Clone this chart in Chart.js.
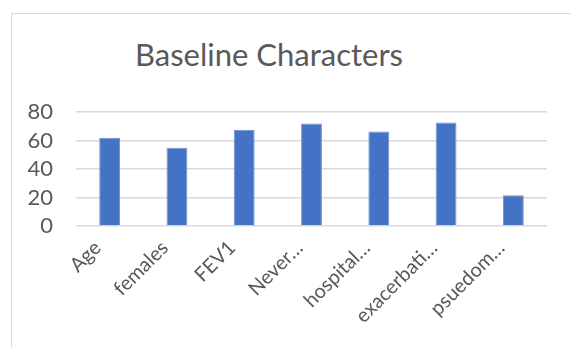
<!DOCTYPE html>
<html lang="en">
  <head>
    <meta charset="UTF-8" />
    <title>Baseline Characters</title>
    <style>
      body { margin: 0; background: #fff; width: 571px; height: 347px; overflow: hidden; position: relative; }
      #frame { position: absolute; left: 11px; top: 13px; width: 600px; height: 400px; border: 1px solid #d9d9d9; }
      #title { position: absolute; left: 0; top: 39px; width: 538px; text-align: center;
        font-family: Lato, sans-serif; font-size: 31px; line-height: 31px; color: #595959; }
      #wrap { position: absolute; left: 0; top: 0; width: 571px; height: 347px; }
    </style>
  </head>
  <body>
    <div id="frame"></div>
    <div id="title">Baseline Characters</div>
    <div id="wrap"><canvas id="myChart"></canvas></div>
    <script src="https://cdn.jsdelivr.net/npm/chart.js@4/dist/chart.umd.min.js"></script>
    <script>
      const categories = ["Age", "females", "FEV1", "Never…", "hospital…", "exacerbati…", "psuedom…"];
      const values = [62, 55, 67.5, 72, 66.3, 72.7, 21.5];
      const yTicks = [0, 20, 40, 60, 80];

      const textColor = "#595959";
      const gridColor = "#d9d9d9";

      var ctx = document.getElementById("myChart").getContext("2d");
      var myChart = new Chart(ctx, {
        type: "bar",
        data: {
          labels: categories,
          datasets: [
            {
              data: values,
              backgroundColor: "#4472c4",
              borderColor: "#6f93d3",
              borderWidth: 1,
              barPercentage: 0.31,
              categoryPercentage: 1,
            },
          ],
        },
        options: {
          responsive: true,
          maintainAspectRatio: false,
          animation: false,
          layout: { padding: { top: 112, right: 24, left: 0, bottom: 0 } },
          plugins: { legend: { display: false }, tooltip: { enabled: false } },
          scales: {
            y: {
              min: 0,
              max: 80,
              afterBuildTicks: (scale) => {
                scale.ticks = yTicks.map((v) => ({ value: v }));
              },
              afterFit: (scale) => { scale.width = 76; },
              grid: { color: gridColor, lineWidth: 1.5, drawTicks: false },
              border: { display: false },
              ticks: {
                autoSkip: false,
                padding: 23,
                color: textColor,
                font: { family: "Lato", size: 22 },
              },
            },
            x: {
              afterFit: (scale) => { scale.height = 121; },
              grid: { display: false },
              border: { display: false },
              ticks: {
                maxRotation: 45,
                minRotation: 45,
                padding: 2,
                labelOffset: -12,
                autoSkip: false,
                color: textColor,
                font: { family: "Lato", size: 20 },
              },
            },
          },
        },
      });
    </script>
  </body>
</html>
